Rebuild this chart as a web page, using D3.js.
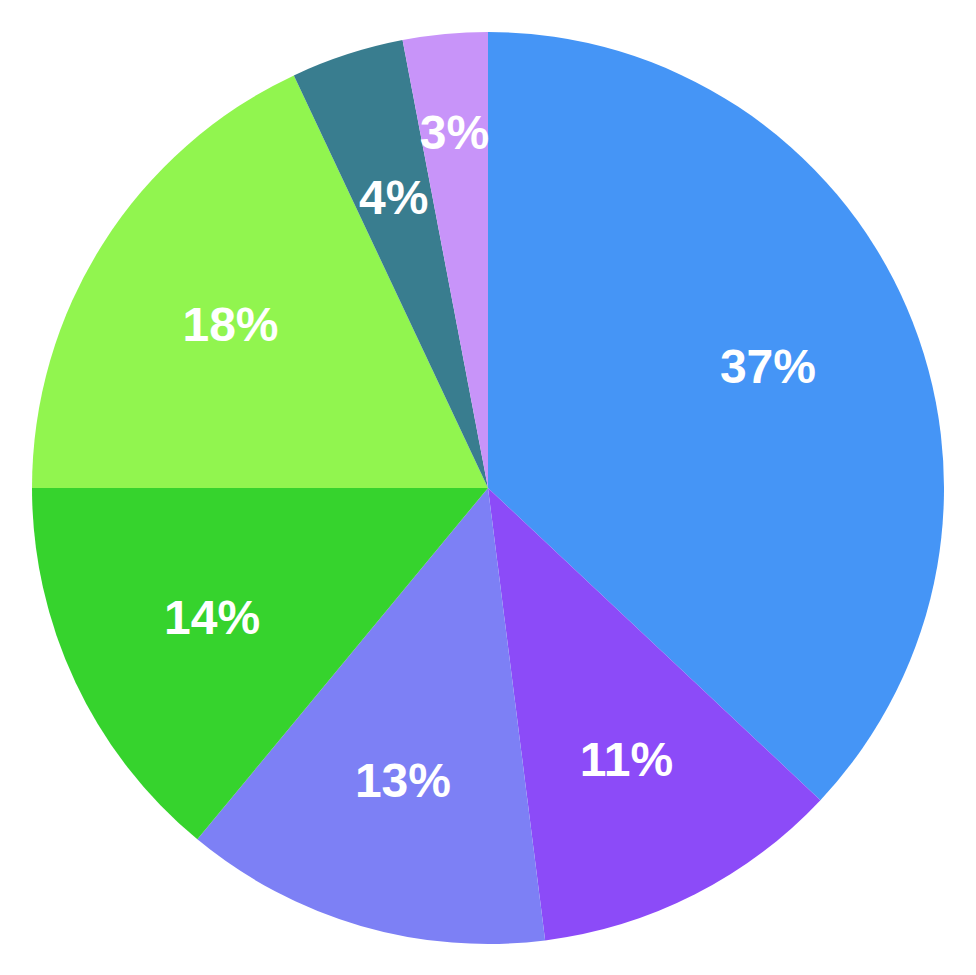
<!DOCTYPE html>
<html>
<head>
<meta charset="utf-8">
<script src="https://cdn.jsdelivr.net/npm/d3@7"></script>
<style>
  html, body { margin: 0; padding: 0; background: #ffffff; }
  svg { display: block; }
</style>
</head>
<body>
<svg id="chart" width="976" height="975"></svg>
<script>
const categories = ["A", "B", "C", "D", "E", "F", "G"];
const values = [37, 11, 13, 14, 18, 4, 3];
const labels = ["37%", "11%", "13%", "14%", "18%", "4%", "3%"];
const colors = ["#4595F6", "#8C4BF8", "#7D80F5", "#36D32D", "#91F54F", "#397D8F", "#C894F9"];

const width = 976, height = 975;
const cx = 488, cy = 488, radius = 456;

const svg = d3.select("#chart");
const g = svg.append("g").attr("transform", `translate(${cx},${cy})`);

const data = categories.map((c, i) => ({ cat: c, value: values[i], label: labels[i], color: colors[i] }));

const pie = d3.pie().value(d => d.value).sort(null);
const arcs = pie(data);

const arc = d3.arc().innerRadius(0).outerRadius(radius);
const labelArc = d3.arc().innerRadius(305).outerRadius(305);
const labelArcSmall = d3.arc().innerRadius(357).outerRadius(357);

g.selectAll("path.slice")
  .data(arcs)
  .join("path")
  .attr("class", "slice")
  .attr("d", arc)
  .attr("fill", d => d.data.color);

g.selectAll("text.lbl")
  .data(arcs)
  .join("text")
  .attr("class", "lbl")
  .attr("transform", d => {
    const c = (d.data.value <= 3 ? labelArcSmall : labelArc).centroid(d);
    return `translate(${c[0]},${c[1]})`;
  })
  .attr("text-anchor", "middle")
  .attr("dy", "0.34em")
  .attr("fill", "#ffffff")
  .attr("font-family", "'Liberation Sans', Arial, Helvetica, sans-serif")
  .attr("font-weight", "bold")
  .attr("font-size", 48)
  .text(d => d.data.label);
</script>
</body>
</html>
